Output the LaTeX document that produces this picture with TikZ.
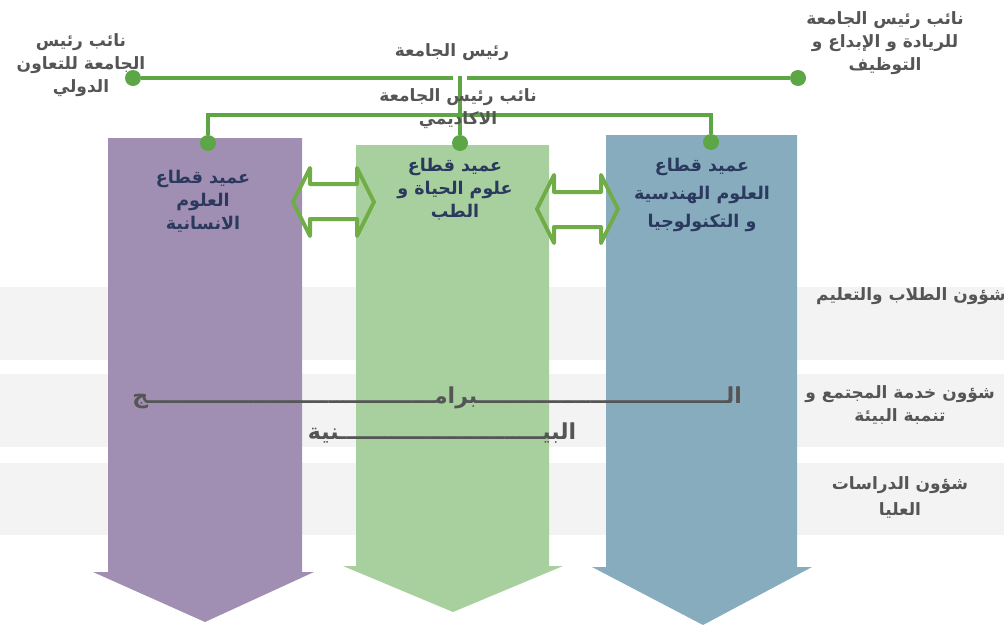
\documentclass[tikz,border=0pt]{standalone}
\usepackage{fontspec}
\newfontfamily\arabicfont[Script=Arabic]{DejaVu Sans}
\TeXXeTstate=1
\definecolor{purp}{RGB}{160,143,179}
\definecolor{leaf}{RGB}{168,208,158}
\definecolor{steel}{RGB}{135,172,190}
\definecolor{linkgreen}{RGB}{93,166,70}
\definecolor{arrgreen}{RGB}{112,173,71}
\definecolor{navy}{RGB}{43,57,94}
\definecolor{ink}{RGB}{85,85,85}
\definecolor{bandgray}{RGB}{243,243,243}
\newcommand\rl[1]{\beginR#1\endR}
\ExplSyntaxOn
\cs_new:Npn \kash #1 { \prg_replicate:nn {#1} { ـ } }
\ExplSyntaxOff
\begin{document}
\begin{tikzpicture}[x=1pt,y=-1pt,
    lbl/.style={font=\arabicfont\bfseries\fontsize{17}{23}\selectfont,text=ink,align=center,inner sep=0pt},
    dean/.style={lbl,text=navy,font=\arabicfont\bfseries\fontsize{17.5}{23}\selectfont},
    prog/.style={font=\arabicfont\bfseries\fontsize{22}{24}\selectfont,text=ink,inner sep=0pt},
    dot/.style={circle,fill=linkgreen,minimum size=16pt,inner sep=0pt},
    link/.style={draw=linkgreen,line width=4.5pt},
    dbl/.style={draw=arrgreen,line width=4pt,line join=round}]
  \useasboundingbox (0,0) rectangle (1004,627);
  % bands
  \fill[bandgray] (0,287) rectangle (1004,360);
  \fill[bandgray] (0,374) rectangle (1004,447);
  \fill[bandgray] (0,463) rectangle (1004,535);
  % sector arrows
  \fill[purp] (108,138) -- (302,138) -- (302,572) -- (314,572) -- (205,622)
    -- (93,572) -- (108,572) -- cycle;
  \fill[leaf] (356,145) -- (549,145) -- (549,566) -- (563,566) -- (453,612)
    -- (343,566) -- (356,566) -- cycle;
  \fill[steel] (606,135) -- (797,135) -- (797,567) -- (812,567) -- (703,625)
    -- (592,567) -- (606,567) -- cycle;
  % double arrows
  \draw[dbl] (293,202) -- (310,168) -- (310,184) -- (357,184) -- (357,168) -- (374,202)
    -- (357,236) -- (357,219) -- (310,219) -- (310,236) -- cycle;
  \draw[dbl] (537,209) -- (554,175) -- (554,192) -- (601,192) -- (601,175) -- (618,209)
    -- (601,243) -- (601,227) -- (554,227) -- (554,243) -- cycle;
  % dots and links
  \begin{scope}
    \node[dot] (L) at (133,78) {};
    \node[dot] (R) at (798,78) {};
    \node[dot] (D1) at (208,143) {};
    \node[dot] (D2) at (460,143) {};
    \node[dot] (D3) at (711,142) {};
    \coordinate (gl) at (453,78);
    \coordinate (gr) at (467,78);
    \coordinate (T) at (460,76);
    \coordinate (K) at (460,115);
  \end{scope}
  \draw[link] (L) -- (gl);
  \draw[link] (gr) -- (R);
  \draw[link] (T) -- (D2);
  \draw[link] (D1) |- (K) -| (D3);
  % labels
  \node[lbl] (P) at (452,52) {\rl{رئيس الجامعة}};
  \node[lbl] (VA) at (458,109) {\rl{نائب رئيس الجامعة}\\\rl{الاكاديمي}};
  \node[lbl] (VI) at (81,65) {\rl{نائب رئيس}\\\rl{الجامعة للتعاون}\\\rl{الدولي}};
  \node[lbl] (VR) at (885,43) {\rl{نائب رئيس الجامعة}\\\rl{للريادة و الإبداع و}\\\rl{التوظيف}};
  \node[dean] (H) at (203,201) {\rl{عميد قطاع}\\\rl{العلوم}\\\rl{الانسانية}};
  \node[dean] (M) at (455,189) {\rl{عميد قطاع}\\\rl{علوم الحياة و}\\\rl{الطب}};
  \node[dean] (E) at (702,195) {\rl{عميد قطاع}\\[5pt]\rl{العلوم الهندسية}\\[5pt]\rl{و التكنولوجيا}};
  \node[lbl,anchor=east] (S1) at (1006,296) {\rl{شؤون الطلاب والتعليم}};
  \node[lbl] (S2) at (900,405) {\rl{شؤون خدمة المجتمع و}\\\rl{تنمبة  البيئة}};
  \node[lbl] (S3) at (900,497) {\rl{شؤون الدراسات}\\[3pt]\rl{العليا}};
  \node[prog] (B1) at (437,398) {\rl{ال\kash{33}برام\kash{38}ج}};
  \node[prog] (B2) at (442,433) {\rl{البي\kash{27}نية}};
\end{tikzpicture}
\end{document}
